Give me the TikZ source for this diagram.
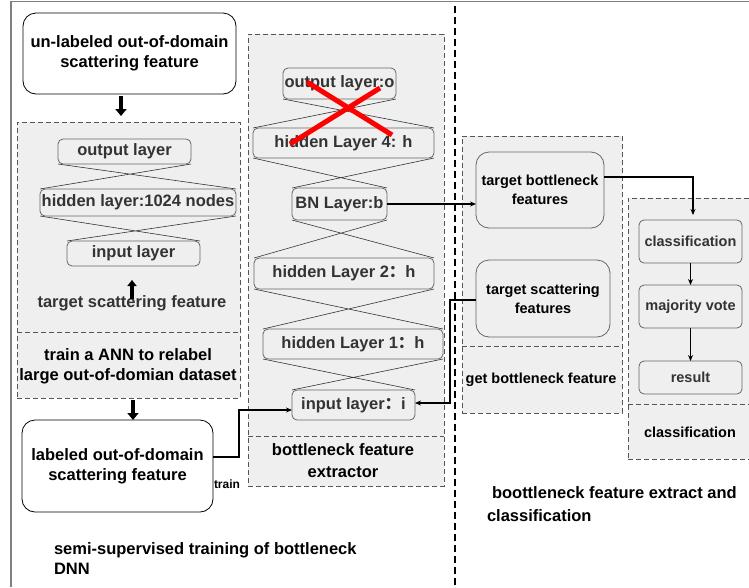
\documentclass[tikz,border=0pt]{standalone}
\usepackage{fontspec}
\setmainfont{Liberation Sans}
\newfontfamily\cjk{Noto Sans CJK SC}
\usetikzlibrary{arrows.meta,calc}
\definecolor{panel}{HTML}{EFEFEF}
\definecolor{edgegray}{HTML}{666666}
\definecolor{txt}{HTML}{333333}
\definecolor{dashgray}{HTML}{555555}
\newcommand{\fwc}{{\cjk ：}}
\pgfdeclarelayer{bg}
\pgfdeclarelayer{mid}
\pgfsetlayers{bg,mid,main}
\begin{document}
\begin{tikzpicture}[x=1pt,y=-1pt,
  every node/.style={font=\fontsize{16.5}{20}\selectfont\bfseries, align=center, inner sep=0pt, outer sep=0pt},
  layer/.style={draw=edgegray, fill=panel, rounded corners=5pt, line width=0.8pt, text=txt},
  bignode/.style={draw=black, fill=white, rounded corners=13pt, line width=0.8pt},
  featnode/.style={draw=edgegray, fill=panel, rounded corners=13pt, line width=0.8pt, text=black},
  panelbox/.style={draw=dashgray, fill=panel, dash pattern=on 5pt off 3pt, line width=0.9pt},
  paneldash/.style={draw=dashgray, dash pattern=on 5pt off 3pt, line width=0.9pt},
  cross/.style={draw=txt, line width=0.6pt},
  fatarrow/.style={-{Triangle[length=7pt,width=11pt]}, line width=4.5pt},
  conn/.style={-{Stealth[length=6pt,width=5pt]}, line width=1.2pt},
  midfont/.style={font=\fontsize{16.5}{22}\selectfont\bfseries},
  smallfont/.style={font=\fontsize{14.5}{19}\selectfont\bfseries}]
\useasboundingbox (0,0) rectangle (749,587);

\begin{pgfonlayer}{bg}
\fill[white] (0,0) rectangle (749,587);
% outer frame and separator
\draw[gray, line width=1.2pt] (11,587) -- (11,1.5) -- (749,1.5);
\draw[black, dash pattern=on 7pt off 4pt, line width=1.5pt] (455,6) -- (455,587);
% panels
\node[panelbox, minimum width=223, minimum height=276] (panelA) at (128.5,260) {};
\draw[paneldash] (panelA.west |- 0,332) -- (panelA.east |- 0,332);
\node[panelbox, minimum width=196, minimum height=452] (panelB) at (346,260) {};
\draw[paneldash] (panelB.west |- 0,436) -- (panelB.east |- 0,436);
\node[panelbox, minimum width=160, minimum height=277] (panelC) at (542,274.5) {};
\draw[paneldash] (panelC.west |- 0,346) -- (panelC.east |- 0,346);
\node[panelbox, minimum width=134, minimum height=261] (panelD) at (695,328.5) {};
\draw[paneldash] (panelD.west |- 0,404) -- (panelD.east |- 0,404);
\end{pgfonlayer}

% left column
\node[bignode, minimum width=213, minimum height=81] (unl) at (129.5,53.5) {un-labeled out-of-domain\\scattering feature};
\node[layer, minimum width=133, minimum height=25] (outA) at (124.5,151.5) {output layer};
\node[layer, minimum width=196, minimum height=27] (hidA) at (138,202.5) {hidden layer:1024 nodes};
\node[layer, minimum width=133, minimum height=25] (inA) at (133.5,253.5) {input layer};
\node[text=txt] (tsf) at (132,303) {target scattering feature};
\node (relab) at (128,366) {train a ANN to relabel\\large out-of-domian dataset};
\node[bignode, minimum width=191, minimum height=92] (lab) at (117.5,466) {labeled out-of-domain\\scattering feature};
\node[font=\fontsize{12}{14}\selectfont\bfseries] (trainlab) at (227,484) {train};
\node[align=left, anchor=west, font=\fontsize{16.5}{20}\selectfont\bfseries] (semi) at (54,559) {semi-supervised training of bottleneck\\DNN};

% middle column
\node[layer, minimum width=113, minimum height=31] (o) at (339.5,83.5) {output layer:o};
\node[layer, minimum width=181, minimum height=30] (h4) at (343.5,143) {hidden Layer 4: h};
\node[layer, minimum width=95, minimum height=32] (bn) at (339.5,204) {BN Layer:b};
\node[layer, minimum width=180, minimum height=31] (h2) at (344,273.5) {hidden Layer 2\fwc h};
\node[layer, minimum width=180, minimum height=30] (h1) at (353,344) {hidden Layer 1\fwc h};
\node[layer, minimum width=123, minimum height=30] (inp) at (353.5,405) {input layer\fwc i};
\node[midfont] (bfe) at (343,461) {bottleneck feature\\extractor};

\begin{pgfonlayer}{mid}
\draw[cross] (outA.south west) -- (hidA.north east) (outA.south east) -- (hidA.north west);
\draw[cross] (hidA.south west) -- (inA.north east) (hidA.south east) -- (inA.north west);
\draw[cross] (o.south west) -- (h4.north east) (o.south east) -- (h4.north west);
\draw[cross] (h4.south west) -- (bn.north east) (h4.south east) -- (bn.north west);
\draw[cross] (bn.south west) -- (h2.north east) (bn.south east) -- (h2.north west);
\draw[cross] (h2.south west) -- (h1.north east) (h2.south east) -- (h1.north west);
\draw[cross] (h1.south west) -- (inp.north east) (h1.south east) -- (inp.north west);
\end{pgfonlayer}

% red cross
\draw[red, line width=5pt] (307,82) -- (392,135);
\draw[red, line width=5pt] (380,88) -- (290,144);

% right columns
\node[featnode, smallfont, minimum width=128, minimum height=76] (tb) at (540,190) {target bottleneck\\features};
\node[featnode, smallfont, minimum width=134, minimum height=77] (ts) at (543,298.5) {target scattering\\features};
\node[smallfont] (gbf) at (541,380) {get bottleneck feature};
\node[layer, smallfont, minimum width=103, minimum height=43] (cls) at (690.5,241.5) {classification};
\node[layer, smallfont, minimum width=103, minimum height=43] (mv) at (690.5,306.5) {majority vote};
\node[layer, smallfont, minimum width=103, minimum height=33] (res) at (690.5,377.5) {result};
\node[smallfont] (clslab) at (690,432) {classification};
\node[midfont, anchor=west] (bfec1) at (492,493) {boottleneck feature extract and};
\node[midfont, anchor=west] (bfec2) at (487,516) {classification};

% connectors
\draw[fatarrow, shorten <=2pt, shorten >=6pt] (unl.south -| 121,0) -- (panelA.north -| 121,0);
\draw[fatarrow, shorten <=2pt] (panelA.south -| 133,0) -- (lab.north -| 133,0);
\draw[-{Triangle[length=6pt,width=9pt]}, line width=3.5pt, shorten <=-4pt, shorten >=14pt] (tsf.north) -- (inA.south -| tsf.north);
\draw[conn] ($(lab.east)+(0,-9)$) -- ++(26,0) |- ($(inp.west)+(0,5)$);
\draw[conn] (bn.east) -- (bn.east -| tb.west);
\draw[conn] ($(ts.west)+(0,1.5)$) -- ++(-26,0) |- ($(inp.east)+(0,-2)$);
\draw[conn, shorten >=5pt] ($(tb.east)+(0,-13)$) -| ($(cls.north)+(2.5,0)$);
\draw[conn] (cls.south) -- (mv.north);
\draw[conn] (mv.south) -- (res.north);
\end{tikzpicture}
\end{document}
